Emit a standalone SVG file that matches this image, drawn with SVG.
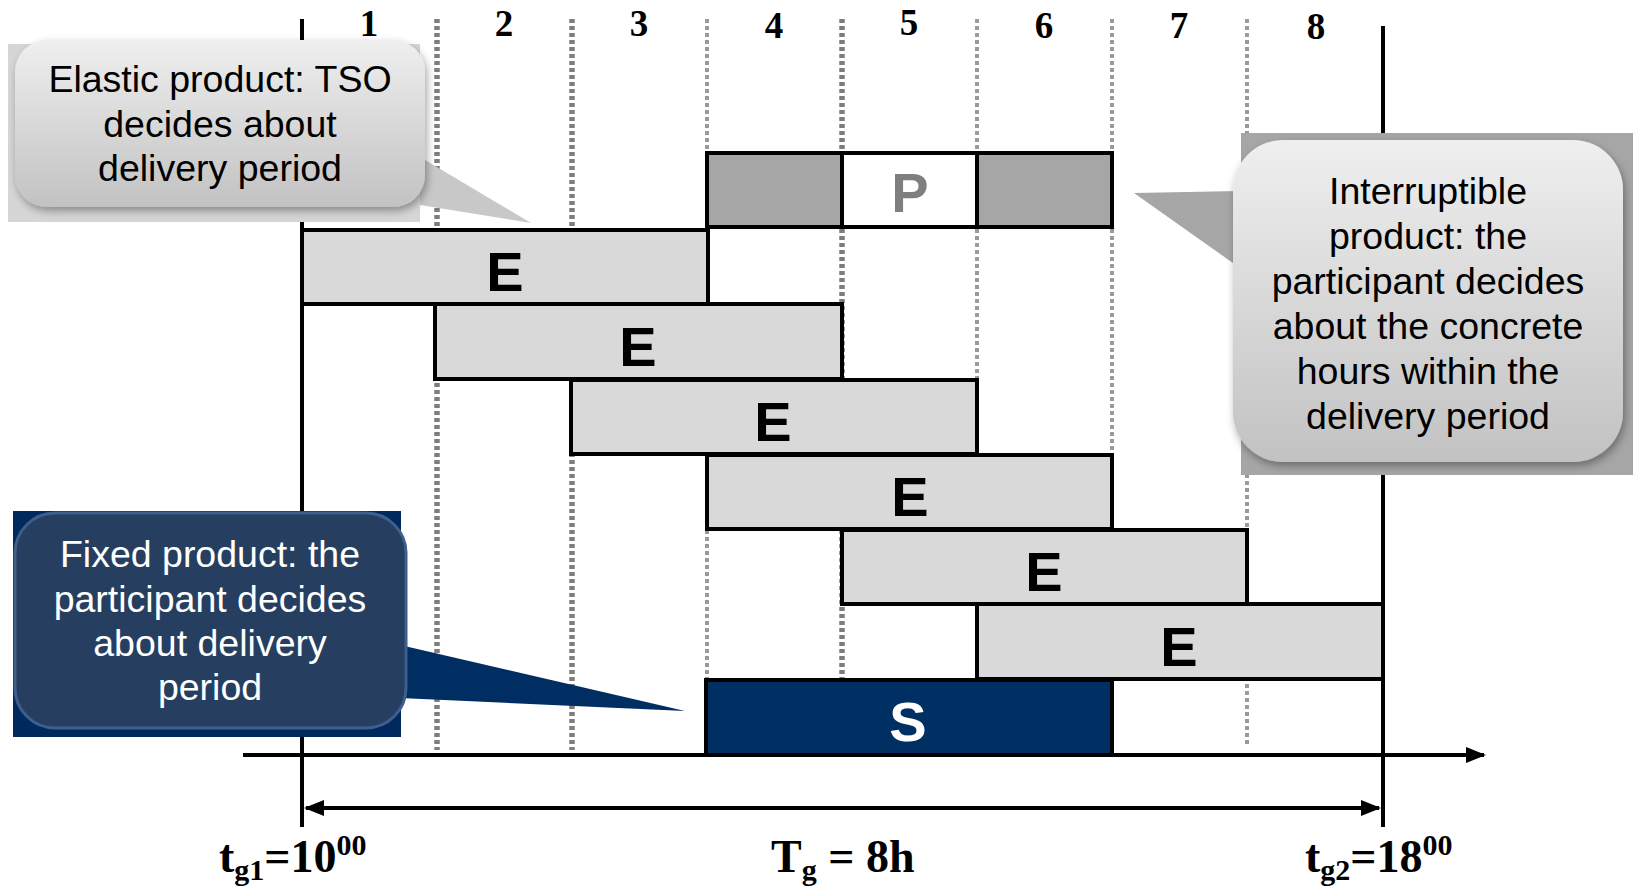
<svg xmlns="http://www.w3.org/2000/svg" width="1639" height="890" viewBox="0 0 1639 890">
<style>
.dot{stroke:#7d7d7d;stroke-dasharray:4 3;fill:none}
.bold{stroke-width:5.5}
.thin{stroke-width:4;stroke:#9a9a9a}
.box{stroke:#000;stroke-width:4}
.e{fill:#d9d9d9}
.big{font-family:"Liberation Sans",Arial,sans-serif;font-weight:bold;font-size:56px;text-anchor:middle}
.num{font-family:"Liberation Serif","Times New Roman",serif;font-weight:bold;font-size:37px;text-anchor:middle;fill:#000}
.call{font-family:"Liberation Sans",Arial,sans-serif;font-size:37.5px;text-anchor:middle}
.lab{font-family:"Liberation Serif","Times New Roman",serif;font-weight:bold;font-size:46px;fill:#000}
.axis{stroke:#000;stroke-width:4;fill:none}
</style>
<defs>
<linearGradient id="lg" x1="0" y1="0" x2="0" y2="1">
<stop offset="0" stop-color="#efefef"/>
<stop offset="1" stop-color="#c2c2c2"/>
</linearGradient>
<filter id="sh" x="-10%" y="-10%" width="125%" height="130%">
<feDropShadow dx="2" dy="4" stdDeviation="4" flood-color="#000" flood-opacity="0.35"/>
</filter>
<marker id="ah" viewBox="0 0 10 10" refX="9" refY="5" markerWidth="5" markerHeight="5" orient="auto-start-reverse" markerUnits="strokeWidth">
<path d="M0,1 L10,5 L0,9 z" fill="#000"/>
</marker>
</defs>

<g id="grid">
<line class="dot bold" x1="437" y1="19" x2="437" y2="750"/>
<line class="dot bold" x1="572" y1="19" x2="572" y2="750"/>
<line class="dot thin" x1="707" y1="19" x2="707" y2="750"/>
<line class="dot bold" x1="842" y1="19" x2="842" y2="750"/>
<line class="dot thin" x1="977" y1="19" x2="977" y2="750"/>
<line class="dot thin" x1="1112" y1="19" x2="1112" y2="750"/>
<line class="dot thin" x1="1247" y1="19" x2="1247" y2="746"/>
</g>

<g id="numbers">
<text class="num" x="369" y="36">1</text>
<text class="num" x="504" y="36">2</text>
<text class="num" x="639" y="36">3</text>
<text class="num" x="774" y="38">4</text>
<text class="num" x="909" y="35">5</text>
<text class="num" x="1044" y="38">6</text>
<text class="num" x="1179" y="38">7</text>
<text class="num" x="1316" y="39">8</text>
</g>

<g id="connectors">
<line class="axis" x1="302" y1="19" x2="302" y2="827"/>
<line class="axis" x1="1383" y1="26" x2="1383" y2="827"/>
<line class="axis" x1="243" y1="755" x2="1484" y2="755" marker-end="url(#ah)"/>
<line class="axis" x1="306" y1="808" x2="1379" y2="808" marker-start="url(#ah)" marker-end="url(#ah)"/>
</g>

<g id="P">
<rect class="box" x="707" y="153" width="135" height="74" fill="#a6a6a6"/>
<rect class="box" x="842" y="153" width="135" height="74" fill="#fff"/>
<rect class="box" x="977" y="153" width="135" height="74" fill="#a6a6a6"/>
<text class="big" x="910" y="212" fill="#7f7f7f">P</text>
</g>
<g id="E1"><rect class="box e" x="302" y="230" width="406" height="74"/><text class="big" x="505" y="291">E</text></g>
<g id="E2"><rect class="box e" x="435" y="304" width="407" height="75"/><text class="big" x="638" y="366">E</text></g>
<g id="E3"><rect class="box e" x="571" y="380" width="406" height="74"/><text class="big" x="773" y="441">E</text></g>
<g id="E4"><rect class="box e" x="707" y="455" width="405" height="74"/><text class="big" x="910" y="516">E</text></g>
<g id="E5"><rect class="box e" x="842" y="530" width="405" height="74"/><text class="big" x="1044" y="591">E</text></g>
<g id="E6"><rect class="box e" x="977" y="604" width="406" height="75"/><text class="big" x="1179" y="666">E</text></g>
<g id="S"><rect class="box" x="706" y="680" width="406" height="75" fill="#003063"/><text class="big" x="908" y="741" fill="#fff">S</text></g>

<g id="elastic-callout">
<rect x="8" y="44" width="412" height="178" fill="#d6d6d6"/>
<polygon points="420,157 531,223 420,205" fill="#c8c8c8"/>
<rect x="15" y="40" width="410" height="167" rx="32" fill="url(#lg)" filter="url(#sh)"/>
<text class="call" x="220" y="92">Elastic product: TSO</text>
<text class="call" x="220" y="137">decides about</text>
<text class="call" x="220" y="181">delivery period</text>
</g>

<g id="interruptible-callout">
<rect x="1241" y="133" width="392" height="342" fill="#a6a6a6"/>
<polygon points="1134,193 1240,191 1240,268" fill="#a6a6a6"/>
<rect x="1233" y="140" width="390" height="322" rx="50" fill="url(#lg)" filter="url(#sh)"/>
<text class="call" x="1428" y="204">Interruptible</text>
<text class="call" x="1428" y="249">product: the</text>
<text class="call" x="1428" y="294">participant decides</text>
<text class="call" x="1428" y="339">about the concrete</text>
<text class="call" x="1428" y="384">hours within the</text>
<text class="call" x="1428" y="429">delivery period</text>
</g>

<g id="fixed-callout">
<rect x="13" y="511" width="388" height="226" fill="#002a5e"/>
<polygon points="400,645 685,711 400,698" fill="#002d62"/>
<rect x="15" y="513" width="391" height="215" rx="40" fill="#263f60" stroke="#3e5e8e" stroke-width="3"/>
<text class="call" x="210" y="567" fill="#fff">Fixed product: the</text>
<text class="call" x="210" y="612" fill="#fff">participant decides</text>
<text class="call" x="210" y="656" fill="#fff">about delivery</text>
<text class="call" x="210" y="700" fill="#fff">period</text>
</g>

<g id="labels">
<text class="lab" x="219" y="872">t<tspan font-size="30" dy="8">g1</tspan><tspan dy="-8">=10</tspan><tspan font-size="30" dy="-17">00</tspan></text>
<text class="lab" x="771" y="872">T<tspan font-size="30" dy="8">g</tspan><tspan dy="-8"> = 8h</tspan></text>
<text class="lab" x="1305" y="872">t<tspan font-size="30" dy="8">g2</tspan><tspan dy="-8">=18</tspan><tspan font-size="30" dy="-17">00</tspan></text>
</g>
</svg>
